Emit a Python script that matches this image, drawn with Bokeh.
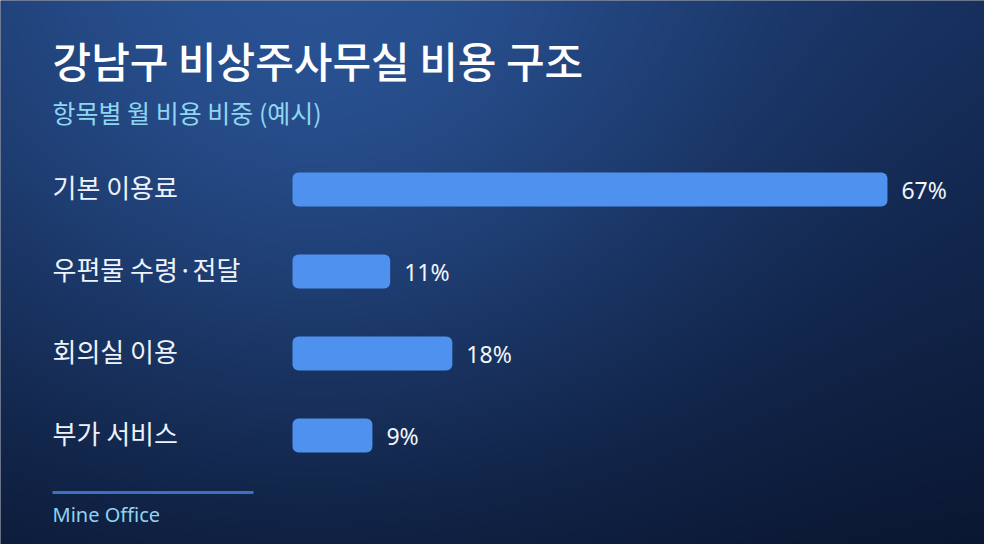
import numpy as np
from bokeh.plotting import figure
from bokeh.models import Range1d, Label
from bokeh.core.properties import value
from bokeh.embed import file_html
from bokeh.resources import INLINE

# ---- data ----
title = "강남구 비상주사무실 비용 구조"
subtitle = "항목별 월 비용 비중 (예시)"
source_note = "Mine Office"
categories = ["기본 이용료", "우편물 수령·전달", "회의실 이용", "부가 서비스"]
shares = [67, 11, 18, 9]
value_labels = [f"{v}%" for v in shares]

# ---- layout ----
W, H = 984, 544
X0_PX = 292          # pixel position of 0%
PX_PER_UNIT = 8.88   # pixels per percent
ROW0_PX = 189        # first bar centre from top
ROW_PX = 82          # row spacing

x_start = -X0_PX / PX_PER_UNIT
x_end = (W - X0_PX) / PX_PER_UNIT
y_top = ROW0_PX / ROW_PX
y_bot = -(H - ROW0_PX) / ROW_PX
ypos = [-i for i in range(len(categories))]

p = figure(width=W, height=H, output_backend="svg", toolbar_location=None,
           x_range=Range1d(x_start, x_end), y_range=Range1d(y_bot, y_top),
           min_border=0, min_border_left=0, min_border_right=0,
           min_border_top=0, min_border_bottom=0)
p.axis.visible = False
p.grid.visible = False
p.outline_line_color = None
p.background_fill_color = "#0f1f40"
p.border_fill_color = "#0f1f40"

# ---- background gradient ----
gh, gw = H // 2, W // 2
yy, xx = np.mgrid[0:gh, 0:gw]
px_x = xx * 2.0 + 8
px_y = (gh - 1 - yy) * 2.0 + 8  # page y from top (row 0 = bottom)
t = np.clip(px_y / 560.0, 0, 1)[..., None]
top_c = np.array([0x15, 0x2c, 0x58], float)
bot_c = np.array([0x0a, 0x16, 0x30], float)
glow_c = np.array([0x2a, 0x53, 0x94], float)
base = top_c * (1 - t) + bot_c * t
d = np.sqrt((px_x - 320) ** 2 + (px_y + 40) ** 2)
g = np.exp(-(d / 450.0) ** 2)[..., None]
rgb = base * (1 - g) + glow_c * g
rgb = np.clip(rgb, 0, 255).astype(np.uint32)
img = (np.uint32(255) << 24) | (rgb[..., 2] << 16) | (rgb[..., 1] << 8) | rgb[..., 0]
p.image_rgba(image=[img.astype(np.uint32)], x=x_start, y=y_bot,
             dw=x_end - x_start, dh=y_top - y_bot)

# ---- bars ----
p.hbar(y=ypos, left=0, right=shares, height=34 / ROW_PX,
       fill_color="#4f91ee", line_color=None, border_radius=6)

KR = "Noto Sans CJK KR"
p.text(x=[x_start] * len(categories), y=ypos, text=categories, x_offset=52,
       y_offset=-3,
       text_align="left", text_baseline="middle", text_color="#eef3fb",
       text_font=value(KR), text_font_size="26px")
p.text(x=shares, y=ypos, text=value_labels, x_offset=14,
       text_align="left", text_baseline="middle", text_color="#f2f5fb",
       text_font=value("Noto Sans"), text_font_size="23px")

# ---- titles ----
p.add_layout(Label(x=52, y=H - 59, x_units="screen", y_units="screen",
                   text=title, text_font="'Noto Sans CJK KR Medium', 'Noto Sans CJK KR'",
                   text_font_size="42px", text_color="#ffffff",
                   text_baseline="middle"))
p.add_layout(Label(x=52, y=H - 111, x_units="screen", y_units="screen",
                   text=subtitle, text_font=KR, text_font_size="25px",
                   text_color="#8fd6f2", text_baseline="middle"))

# ---- footer ----
p.add_layout(Label(x=52, y=H - 514, x_units="screen", y_units="screen",
                   text=source_note, text_font="Noto Sans", text_font_size="20px",
                   text_color="#8fd3f0", text_baseline="middle"))
p.quad(left=[x_start + 52 / PX_PER_UNIT], right=[x_start + 253 / PX_PER_UNIT],
       bottom=[y_top - 493.5 / ROW_PX], top=[y_top - 490.5 / ROW_PX],
       fill_color="#3f6fc2", line_color=None)

open("out.html", "w").write(file_html(p, INLINE))
